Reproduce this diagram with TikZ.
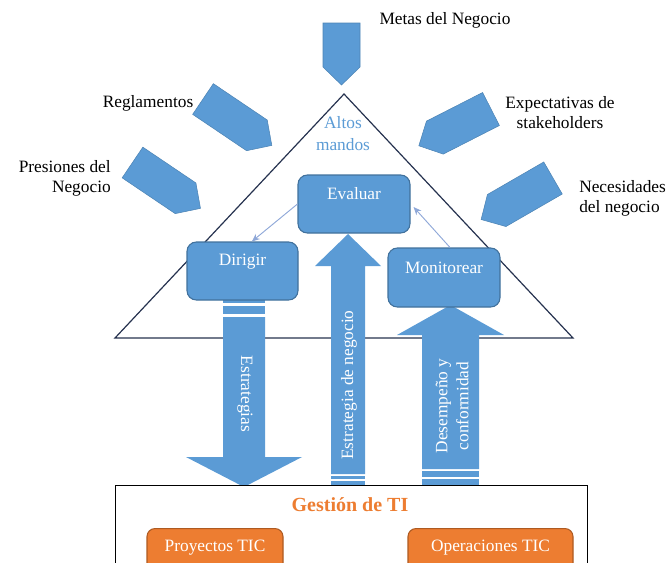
\documentclass[tikz,border=0pt]{standalone}
\usepackage{fontspec}
\setmainfont{Liberation Serif}
\usetikzlibrary{arrows.meta}
\definecolor{bfill}{HTML}{5B9BD5}
\definecolor{bdraw}{HTML}{41719C}
\definecolor{ofill}{HTML}{ED7D31}
\definecolor{odraw}{HTML}{AE5A21}
\definecolor{trid}{HTML}{26324F}
\definecolor{connc}{HTML}{8FA8D8}
\begin{document}
\begin{tikzpicture}[x=0.75pt,y=-0.75pt,
  font=\fontsize{13}{15}\selectfont,
  bluebox/.style={draw=bdraw, fill=bfill, rounded corners=7pt, text=white, line width=0.8pt, inner sep=0pt},
  orangebox/.style={draw=odraw, fill=ofill, rounded corners=6pt, text=white, line width=0.8pt, inner sep=0pt},
  lbl/.style={text=black, inner sep=0pt},
  arrowtext/.style={text=white, inner sep=0pt},
  connector/.style={draw=connc, line width=0.7pt, -{Stealth[length=6pt,width=5pt]}},
  pentagon/.style={fill=bfill, draw=bfill!85!black, line width=0.4pt},
  bigarrow/.style={fill=bfill},
  triline/.style={draw=trid, line width=0.9pt}
]
\useasboundingbox (0,0) rectangle (670,562);

% triangle
\draw[triline] (115,338) -- (344,94) -- (573,338) -- cycle;
\node[text=bfill, align=center, inner sep=0pt, font=\fontsize{13}{16.5}\selectfont] (altos) at (343,134) {Altos\\mandos};

% pentagon arrows
\foreach \cx/\cy/\ang/\len in {341.5/23/-90/62, 203/99/-34/83, 132.5/162.5/-34/82, 491/109/207/81, 553/178/210/83}{
  \begin{scope}[shift={(\cx,\cy)}, rotate=\ang]
    \path[pentagon] (0,-18.5) -- (\len-18,-18.5) -- (\len,0) -- (\len-18,18.5) -- (0,18.5) -- cycle;
  \end{scope}
}

% labels
\node[lbl] (metas) at (445,20) {Metas del Negocio};
\node[lbl] (regl) at (148,103) {Reglamentos};
\node[lbl, align=right, anchor=east] (pres) at (111,178) {Presiones del\\Negocio};
\node[lbl, align=center] (expec) at (560,113) {Expectativas de\\stakeholders};
\node[lbl, align=left, anchor=west] (neces) at (579,198) {Necesidades\\del negocio};

% big arrows
\fill[bigarrow] (223,299) rectangle (265,303);
\fill[bigarrow] (223,306) rectangle (265,314);
\fill[bigarrow] (223,317) -- (265,317) -- (265,457) -- (302,457) -- (244,487) -- (186,457) -- (223,457) -- cycle;

\fill[bigarrow] (331,485) rectangle (365,481);
\fill[bigarrow] (331,479) rectangle (365,476);
\fill[bigarrow] (331,474) -- (331,266) -- (315,266) -- (348,234) -- (381,266) -- (365,266) -- (365,474) -- cycle;

\fill[bigarrow] (422,485) rectangle (479,479);
\fill[bigarrow] (422,477) rectangle (479,471);
\fill[bigarrow] (422,469) -- (422,335) -- (397,335) -- (450.5,305) -- (504,335) -- (479,335) -- (479,469) -- cycle;

\node[arrowtext, rotate=-90] (estr) at (245,394) {Estrategias};
\node[arrowtext, rotate=90] (estneg) at (349,385) {Estrategia de negocio};
\node[arrowtext, rotate=90, align=center, font=\fontsize{13}{15.75}\selectfont] (desemp) at (452,406) {Desempeño y\\conformidad};

% blue boxes
\node[bluebox, minimum width=84pt, minimum height=43.5pt] (evaluar) at (354,204) {\raisebox{8pt}[\height][\depth]{Evaluar}};
\node[bluebox, minimum width=83.25pt, minimum height=43.5pt] (dirigir) at (242.5,271) {\raisebox{7pt}[\height][\depth]{Dirigir}};
\node[bluebox, minimum width=84pt, minimum height=44.25pt] (monit) at (444,277.5) {\raisebox{7.5pt}[\height][\depth]{Monitorear}};

\draw[connector] (evaluar.west) -- ([xshift=7pt]dirigir.north);
\draw[connector] ([xshift=4.5pt]monit.north) -- ([xshift=2.25pt,yshift=-2.25pt]evaluar.east);

% bottom box
\fill[white] (115,485) rectangle (587,575);
\draw[black, line width=0.75pt] (115,575) -- (115,485) -- (587,485) -- (587,575);
\node[text=ofill, inner sep=0pt, font=\bfseries\fontsize{15}{18}\selectfont] (gestion) at (350,505) {Gestión de TI};
\node[orangebox, minimum width=102pt, minimum height=36pt, anchor=north] (proy) at (215,528) {\raisebox{3.4pt}[\height][\depth]{Proyectos TIC}};
\node[orangebox, minimum width=123.75pt, minimum height=36pt, anchor=north] (oper) at (490.5,528) {\raisebox{3.4pt}[\height][\depth]{Operaciones TIC}};
\end{tikzpicture}
\end{document}
